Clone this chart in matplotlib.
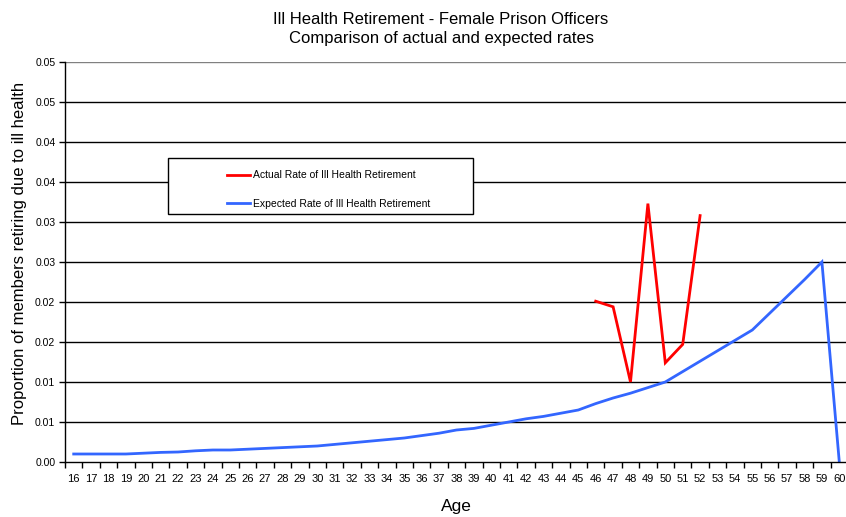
import matplotlib
matplotlib.use("Agg")
import matplotlib.pyplot as plt
from matplotlib.patches import Rectangle
from matplotlib.lines import Line2D
import numpy as np

plt.rcParams['font.family'] = ['Liberation Sans Narrow', 'Liberation Sans', 'DejaVu Sans']

ages = list(range(16, 61))
expected = [0.0010, 0.0010, 0.0010, 0.0010, 0.0011, 0.0012, 0.00125, 0.0014, 0.0015, 0.0015,
            0.0016, 0.0017, 0.0018, 0.0019, 0.0020, 0.0022, 0.0024, 0.0026, 0.0028, 0.0030,
            0.0033, 0.0036, 0.0040, 0.0042, 0.0046, 0.0050, 0.0054, 0.0057, 0.0061, 0.0065,
            0.0073, 0.0080, 0.0086, 0.0093, 0.0100, 0.0113, 0.0126, 0.0139, 0.0152, 0.0165,
            0.0186, 0.0207, 0.0228, 0.0250, 0.0000]
actual_ages = [46, 47, 48, 49, 50, 51, 52]
actual = [0.0201, 0.0194, 0.0100, 0.0323, 0.0124, 0.0147, 0.0308]

y_ticks = [0.0, 0.005, 0.010, 0.015, 0.020, 0.025, 0.030, 0.035, 0.040, 0.045, 0.050]
y_tick_labels = ["0.00", "0.01", "0.01", "0.02", "0.02", "0.03", "0.03", "0.04", "0.04", "0.05", "0.05"]

title = "Ill Health Retirement - Female Prison Officers\nComparison of actual and expected rates"
ylabel = "Proportion of members retiring due to ill health"
xlabel = "Age"
legend_labels = ["Actual Rate of Ill Health Retirement", "Expected Rate of Ill Health Retirement"]

RED = "#ff0000"
BLUE = "#3366ff"

fig = plt.figure(figsize=(8.46, 5.17), dpi=100)
ax = fig.add_axes([65/846, 1-462/517, 783/846, 400/517])

xi = np.arange(len(ages))
ax_idx = [ages.index(a) for a in actual_ages]

for i, yv in enumerate(y_ticks):
    if i == 0:
        continue
    col = "#808080" if i == len(y_ticks) - 1 else "black"
    ax.axhline(yv, color=col, lw=1.0, zorder=1)

ax.plot(xi, expected, color=BLUE, lw=2.0, zorder=3, solid_joinstyle='miter')
ax.plot(ax_idx, actual, color=RED, lw=2.0, zorder=3, solid_joinstyle='miter')

ax.set_xlim(-0.5, len(ages) - 0.5)
ax.set_ylim(0, 0.050)

ax.set_xticks(xi)
ax.set_xticklabels([str(a) for a in ages], fontsize=8)
ax.set_xticks(np.arange(-0.5, len(ages) - 0.5 + 0.01, 1.0), minor=True)
ax.tick_params(axis='x', which='major', length=0, pad=9)
ax.tick_params(axis='x', which='minor', length=4, width=1, color='black', direction='out')

ax.set_yticks(y_ticks)
ax.set_yticklabels(y_tick_labels, fontsize=7.5)
ax.tick_params(axis='y', length=4, width=1, direction='out', pad=3)

for s in ['top', 'right']:
    ax.spines[s].set_visible(False)
for s in ['left', 'bottom']:
    ax.spines[s].set_color('black')
    ax.spines[s].set_linewidth(1.0)
    ax.spines[s].set_zorder(4)

fig.text(441/846, 1-29/517, title, ha='center', va='center', fontsize=12, linespacing=1.3)
fig.text(20/846, 1-253/517, ylabel, ha='center', va='center', rotation=90, fontsize=12)
fig.text(456/846, 1-507/517, xlabel, ha='center', va='center', fontsize=12.5)

# legend box
box = Rectangle((168/846, 1-214/517), (473-168)/846, (214-158)/517, transform=fig.transFigure,
                facecolor='white', edgecolor='black', lw=1.0, zorder=5)
fig.patches.append(box)
handles = [Line2D([], [], color=RED, lw=2.0), Line2D([], [], color=BLUE, lw=2.0)]
leg = fig.legend(handles, legend_labels, loc='upper left', bbox_to_anchor=(218/846, 1-161/517),
                 frameon=False, fontsize=7.5, handlelength=2.2, handletextpad=0.3, labelspacing=1.75,
                 borderpad=0.4)
leg.set_zorder(6)

fig.savefig("out.png", dpi=100)
